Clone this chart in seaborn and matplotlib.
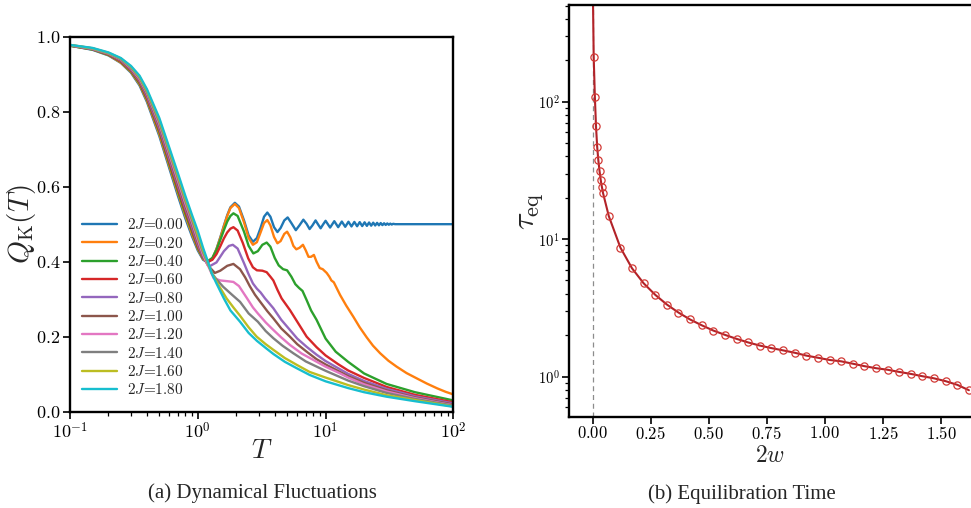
import matplotlib
matplotlib.use("Agg")
import numpy as np
import pandas as pd
import seaborn as sns
import matplotlib.pyplot as plt
from matplotlib.ticker import FuncFormatter, FixedLocator, LogLocator, NullFormatter, NullLocator

# ---------------- data: panel (a) ----------------
J_labels = ["0.00", "0.20", "0.40", "0.60", "0.80", "1.00", "1.20", "1.40", "1.60", "1.80"]
t_desc = [0.1, 0.15, 0.2, 0.25, 0.3, 0.35, 0.4, 0.5, 0.6, 0.7, 0.8, 0.9, 1.0]

t_00 = t_desc + [1.1, 1.2, 1.3, 1.4, 1.5, 1.6, 1.7, 1.8, 1.95, 2.1, 2.3, 2.5, 2.7, 2.9,
                 3.1, 3.3, 3.5, 3.7, 3.95, 4.2, 4.45, 4.75, 5.05, 5.4, 5.85, 6.25, 6.7,
                 7.1, 7.5, 7.9, 8.35, 8.75, 9.15, 9.55, 10.0, 10.85, 11.7, 12.55, 13.4,
                 14.25, 15.1, 15.95, 16.8, 17.65, 18.5, 19.35, 20.2, 21.05, 21.9, 22.75,
                 23.6, 24.45, 25.3, 26.15, 27.0, 27.85, 28.7, 29.55, 30.4, 31.25, 32.1,
                 32.95, 33.8, 35, 50, 100]
q_00 = [0.976, 0.965, 0.950, 0.930, 0.904, 0.870, 0.826, 0.735, 0.648, 0.575, 0.515, 0.468, 0.430,
        0.405, 0.398, 0.408, 0.434, 0.465, 0.496, 0.524, 0.545, 0.557, 0.547, 0.510, 0.470, 0.453, 0.463,
        0.490, 0.520, 0.531, 0.520, 0.492, 0.479, 0.490, 0.510, 0.518, 0.503, 0.484, 0.497, 0.512,
        0.501, 0.487, 0.497, 0.510, 0.499, 0.489, 0.499, 0.509, 0.491, 0.508, 0.492, 0.507,
        0.493, 0.5065, 0.494, 0.506, 0.4945, 0.5055, 0.495, 0.505, 0.4955, 0.5045, 0.496,
        0.504, 0.4965, 0.5035, 0.497, 0.503, 0.4975, 0.5025, 0.498, 0.502, 0.4985, 0.5015,
        0.499, 0.501, 0.500, 0.500, 0.500]

t_02 = t_desc + [1.1, 1.2, 1.3, 1.4, 1.5, 1.6, 1.7, 1.8, 1.95, 2.1, 2.3, 2.5, 2.7, 2.9,
                 3.1, 3.3, 3.5, 3.7, 3.95, 4.2, 4.45, 4.75, 5.0, 5.3, 5.6, 5.9, 6.25, 6.65,
                 7.0, 7.35, 7.7, 8.1, 8.5, 9.0, 9.5, 10.2, 10.7, 11.1, 11.6, 12.2, 13.0,
                 14.5, 16.5, 18.5, 21, 23.5, 26.7, 31, 36, 43, 51.6, 62, 75, 87, 100]
q_02 = [0.976, 0.966, 0.951, 0.931, 0.906, 0.873, 0.830, 0.740, 0.654, 0.582, 0.522, 0.474, 0.434,
        0.407, 0.399, 0.408, 0.433, 0.463, 0.494, 0.522, 0.543, 0.554, 0.543, 0.505, 0.463, 0.445, 0.452,
        0.478, 0.503, 0.511, 0.497, 0.466, 0.449, 0.455, 0.474, 0.480, 0.465, 0.442, 0.433, 0.437, 0.445,
        0.430, 0.413, 0.413, 0.418, 0.400, 0.383, 0.380, 0.370, 0.360, 0.350, 0.345, 0.330, 0.311,
        0.283, 0.253, 0.225, 0.198, 0.176, 0.156, 0.136, 0.120, 0.103, 0.089, 0.075, 0.062, 0.053, 0.046]

t_04 = t_desc + [1.1, 1.2, 1.3, 1.4, 1.5, 1.6, 1.7, 1.8, 1.9, 2.05, 2.3, 2.5, 2.72, 2.95,
                 3.2, 3.46, 3.7, 4.0, 4.3, 4.65, 5.0, 5.4, 5.8, 6.2, 6.6, 7.1, 7.7, 8.5,
                 10, 12, 15, 20, 30, 50, 100]
q_04 = [0.976, 0.966, 0.952, 0.933, 0.908, 0.876, 0.834, 0.746, 0.660, 0.588, 0.528, 0.481, 0.437,
        0.409, 0.402, 0.410, 0.431, 0.458, 0.484, 0.507, 0.522, 0.529, 0.522, 0.480, 0.442, 0.422, 0.428,
        0.445, 0.451, 0.440, 0.410, 0.390, 0.380, 0.377, 0.360, 0.340, 0.330, 0.322, 0.298, 0.270, 0.245,
        0.195, 0.160, 0.133, 0.102, 0.074, 0.052, 0.030]

t_06 = t_desc + [1.1, 1.2, 1.3, 1.4, 1.5, 1.6, 1.7, 1.8, 1.9, 2.05, 2.25, 2.48, 2.7, 2.9,
                 3.2, 3.46, 3.7, 3.9, 4.2, 4.53, 5.26, 6.0, 7.11, 8.5, 10, 12.5, 15, 20, 30, 50, 100]
q_06 = [0.977, 0.967, 0.953, 0.934, 0.910, 0.879, 0.837, 0.751, 0.666, 0.595, 0.535, 0.487, 0.441,
        0.411, 0.400, 0.405, 0.420, 0.441, 0.462, 0.478, 0.488, 0.492, 0.483, 0.450, 0.409, 0.385, 0.377,
        0.376, 0.372, 0.360, 0.350, 0.325, 0.302, 0.271, 0.240, 0.200, 0.172, 0.150, 0.127, 0.110,
        0.090, 0.066, 0.045, 0.025]

t_08 = t_desc + [1.1, 1.24, 1.4, 1.6, 1.75, 1.88, 2.05, 2.3, 2.48, 2.7, 2.9, 3.1, 3.36, 3.6,
                 3.9, 4.5, 5.26, 6.0, 7.11, 8.5, 10, 15, 20, 30, 50, 100]
q_08 = [0.977, 0.967, 0.954, 0.936, 0.912, 0.882, 0.841, 0.756, 0.672, 0.602, 0.542, 0.493, 0.446,
        0.412, 0.388, 0.398, 0.428, 0.442, 0.445, 0.435, 0.396, 0.369, 0.342, 0.328, 0.318, 0.302, 0.290,
        0.276, 0.245, 0.218, 0.195, 0.173, 0.152, 0.135, 0.101, 0.082, 0.061, 0.041, 0.022]

t_10 = t_desc + [1.1, 1.2, 1.36, 1.5, 1.7, 1.9, 2.14, 2.35, 2.55, 2.8, 3.08, 3.5, 3.9, 4.5,
                 5.26, 6.0, 7.11, 8.5, 10, 15, 20, 30, 50, 100]
q_10 = [0.977, 0.968, 0.954, 0.937, 0.914, 0.884, 0.845, 0.762, 0.679, 0.608, 0.548, 0.500, 0.452,
        0.414, 0.390, 0.370, 0.376, 0.389, 0.394, 0.380, 0.358, 0.335, 0.312, 0.293, 0.268, 0.249, 0.222,
        0.200, 0.180, 0.160, 0.140, 0.126, 0.095, 0.077, 0.057, 0.038, 0.019]

t_12 = t_desc + [1.1, 1.2, 1.33, 1.5, 1.7, 1.9, 2.1, 2.4, 2.7, 2.95, 3.4, 3.9, 4.5, 5.26,
                 6.5, 8.02, 10, 13, 15, 20, 30, 50, 100]
q_12 = [0.977, 0.968, 0.955, 0.939, 0.916, 0.887, 0.849, 0.767, 0.685, 0.615, 0.555, 0.506, 0.458,
        0.418, 0.390, 0.356, 0.350, 0.348, 0.346, 0.335, 0.305, 0.278, 0.262, 0.238, 0.218, 0.198, 0.178,
        0.155, 0.138, 0.120, 0.102, 0.091, 0.073, 0.054, 0.036, 0.017]

t_14 = t_desc + [1.1, 1.2, 1.29, 1.4, 1.58, 1.85, 2.14, 2.5, 2.95, 3.4, 3.9, 4.6, 5.58, 7.0,
                 9.04, 10, 15, 20, 30, 50, 100]
q_14 = [0.978, 0.969, 0.956, 0.940, 0.918, 0.890, 0.852, 0.772, 0.691, 0.622, 0.562, 0.512, 0.465,
        0.425, 0.395, 0.369, 0.353, 0.333, 0.312, 0.293, 0.262, 0.240, 0.215, 0.196, 0.176, 0.156, 0.134,
        0.116, 0.109, 0.083, 0.068, 0.050, 0.034, 0.016]

t_16 = t_desc + [1.1, 1.2, 1.29, 1.45, 1.68, 1.9, 2.14, 2.5, 2.89, 3.4, 3.9, 4.8, 5.94, 7.5,
                 10, 15, 20, 30, 50, 100]
q_16 = [0.978, 0.969, 0.957, 0.942, 0.920, 0.893, 0.856, 0.778, 0.697, 0.628, 0.568, 0.519, 0.472,
        0.430, 0.397, 0.369, 0.338, 0.302, 0.278, 0.256, 0.225, 0.200, 0.180, 0.165, 0.143, 0.125, 0.106,
        0.091, 0.071, 0.059, 0.044, 0.031, 0.014]

t_18 = t_desc + [1.1, 1.2, 1.29, 1.4, 1.6, 1.8, 2.14, 2.5, 2.9, 3.4, 3.9, 4.8, 5.94, 7.5,
                 10, 15, 20, 30, 50, 100]
q_18 = [0.978, 0.970, 0.958, 0.943, 0.922, 0.896, 0.860, 0.783, 0.703, 0.635, 0.575, 0.525, 0.482,
        0.437, 0.400, 0.368, 0.342, 0.302, 0.270, 0.240, 0.210, 0.189, 0.170, 0.154, 0.133, 0.116, 0.098,
        0.081, 0.063, 0.052, 0.040, 0.028, 0.013]

curves_t = [t_00, t_02, t_04, t_06, t_08, t_10, t_12, t_14, t_16, t_18]
curves_q = [q_00, q_02, q_04, q_06, q_08, q_10, q_12, q_14, q_16, q_18]

left_yticks = [0.0, 0.2, 0.4, 0.6, 0.8, 1.0]
left_xticks = [0.1, 1, 10, 100]

# ---------------- data: panel (b) ----------------
w_vals = [0.005, 0.01, 0.015, 0.02, 0.025, 0.03, 0.035, 0.04, 0.045,
          0.07, 0.12, 0.17, 0.22, 0.27, 0.32, 0.37, 0.42, 0.47, 0.52, 0.57, 0.62,
          0.67, 0.72, 0.77, 0.82, 0.87, 0.92, 0.97, 1.02, 1.07, 1.12, 1.17, 1.22,
          1.27, 1.32, 1.37, 1.42, 1.47, 1.52, 1.57, 1.62]
tau_vals = [213, 109, 66, 47, 37.4, 31.5, 27.1, 24.1, 21.7,
            14.7, 8.67, 6.13, 4.77, 3.93, 3.34, 2.92, 2.60, 2.36, 2.16, 2.01, 1.88,
            1.77, 1.68, 1.61, 1.55, 1.49, 1.42, 1.37, 1.32, 1.29, 1.24, 1.19, 1.15,
            1.12, 1.08, 1.045, 1.005, 0.97, 0.925, 0.87, 0.795]
fit_w_top = [0.002]
fit_tau_top = [540]
right_xticks = [0.0, 0.25, 0.5, 0.75, 1.0, 1.25, 1.5]
right_yticks = [1, 10, 100]

# ---------------- style ----------------
sns.set_style("ticks")
plt.rcParams.update({
    "font.family": ["Liberation Serif", "DejaVu Serif"],
    "mathtext.fontset": "cm",
    "axes.linewidth": 1.7,
    "axes.edgecolor": "black",
    "xtick.color": "black",
    "ytick.color": "black",
    "xtick.direction": "out",
    "ytick.direction": "out",
    "xtick.major.width": 1.2,
    "ytick.major.width": 1.2,
    "xtick.minor.width": 0.9,
    "ytick.minor.width": 0.9,
    "xtick.major.size": 5,
    "ytick.major.size": 5,
    "xtick.minor.size": 3,
    "ytick.minor.size": 3,
})

palette = sns.color_palette("tab10", 10)

fig = plt.figure(figsize=(9.71, 5.08), dpi=100)
ax1 = fig.add_axes([0.0721, 0.1896, 0.3948, 0.7382])
ax2 = fig.add_axes([0.5863, 0.1797, 0.4137, 0.8104])

# ---------------- panel (a) ----------------
for t, q, lab, col in zip(curves_t, curves_q, J_labels, palette):
    sns.lineplot(x=t, y=q, ax=ax1, color=col, linewidth=1.7,
                 label=r"$2J$=" + lab, estimator=None, sort=False)

ax1.set_xscale("log")
ax1.set_xlim(0.1, 100)
ax1.set_ylim(0, 1.0)
ax1.yaxis.set_major_locator(FixedLocator(left_yticks))
ax1.yaxis.set_major_formatter(FuncFormatter(lambda v, p: r"$%.1f$" % v))
ax1.yaxis.set_minor_locator(NullLocator())
ax1.xaxis.set_major_locator(FixedLocator(left_xticks))
ax1.xaxis.set_major_formatter(FuncFormatter(lambda v, p: r"$10^{%d}$" % int(round(np.log10(v)))))
ax1.xaxis.set_minor_locator(LogLocator(base=10, subs=np.arange(2, 10)))
ax1.xaxis.set_minor_formatter(NullFormatter())
ax1.tick_params(labelsize=13, pad=2)
ax1.set_xlabel(r"$T$", fontsize=20, labelpad=-2)
ax1.set_ylabel(r"$Q_{\rm K}(T)$", fontsize=21, labelpad=-1.5)
ax1.legend(loc="lower left", bbox_to_anchor=(0.03, 0.038), frameon=False,
           prop={"family": "cmr10", "size": 11}, handlelength=2.3, labelspacing=0.22,
           borderpad=0, borderaxespad=0, handletextpad=0.65)
for s in ax1.spines.values():
    s.set_visible(True)

# ---------------- panel (b) ----------------
ax2.axvline(0.0, color="#8c8c8c", linestyle="--", linewidth=0.9, dashes=(4, 3))
sns.lineplot(x=fit_w_top + w_vals, y=fit_tau_top + tau_vals, ax=ax2,
             color="#b22228", linewidth=1.5, estimator=None, sort=False)
sns.lineplot(x=w_vals, y=tau_vals, ax=ax2, marker="o", linestyle="none",
             markerfacecolor="none", markeredgecolor="#d23a36", markersize=5.2,
             markeredgewidth=0.9, estimator=None, sort=False)
ax2.set_yscale("log")
ax2.set_xlim(-0.1, 1.629)
ax2.set_ylim(0.51, 505)
ax2.xaxis.set_major_locator(FixedLocator(right_xticks))
ax2.xaxis.set_major_formatter(FuncFormatter(lambda v, p: r"$%.2f$" % v))
ax2.yaxis.set_major_locator(FixedLocator(right_yticks))
ax2.yaxis.set_major_formatter(FuncFormatter(lambda v, p: r"$10^{%d}$" % int(round(np.log10(v)))))
ax2.yaxis.set_minor_locator(LogLocator(base=10, subs=np.arange(2, 10)))
ax2.yaxis.set_minor_formatter(NullFormatter())
ax2.tick_params(axis="x", labelsize=12, pad=2)
ax2.tick_params(axis="y", labelsize=10.5, pad=2)
ax2.set_xlabel(r"$2w$", fontsize=17, labelpad=2)
ax2.set_ylabel(r"$\tau_{\rm eq}$", fontsize=23, labelpad=-6)
ax2.spines["right"].set_visible(False)

# ---------------- captions ----------------
fig.text(262 / 971, 1 - 493 / 508, "(a) Dynamical Fluctuations", ha="center", va="center",
         fontsize=15, family="Liberation Serif")
fig.text(742 / 971, 1 - 494 / 508, "(b) Equilibration Time", ha="center", va="center",
         fontsize=15, family="Liberation Serif")

fig.savefig("out.png", dpi=100)
